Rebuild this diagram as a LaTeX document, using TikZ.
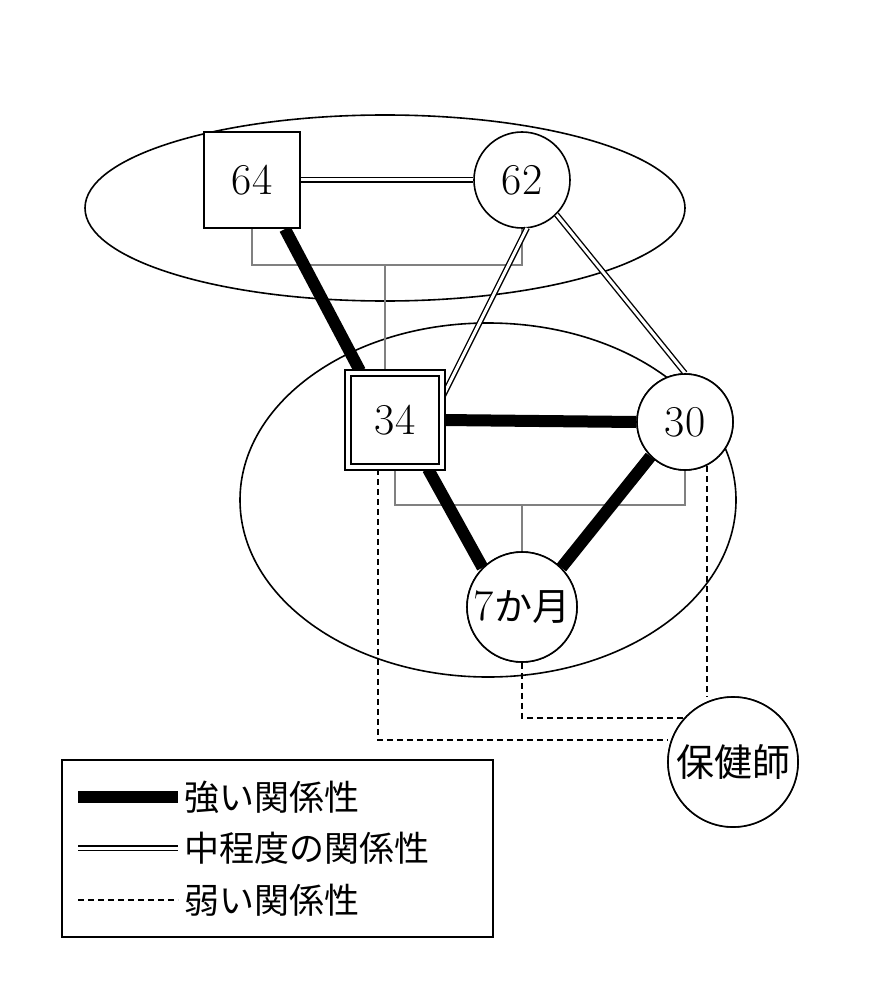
\documentclass[tikz,border=0pt]{standalone}
\usepackage{fontspec}
\newfontfamily\cjk{Noto Sans CJK JP}
\begin{document}
\begin{tikzpicture}[x=1pt,y=-1pt,
  person/.style={draw,line width=1.6pt,fill=white,font=\fontsize{44}{46}\selectfont},
  strong/.style={line width=12pt},
  mid/.style={double,double distance=3pt,line width=1.4pt},
  weak/.style={dashed,line width=1.4pt,dash pattern=on 6pt off 4pt},
  gen/.style={gray,line width=1.2pt}]
\useasboundingbox (0,0) rectangle (877,1000);
\draw[line width=1.6pt] (385,208) ellipse (300 and 93);
\draw[line width=1.6pt] (488,500) ellipse (248 and 177);
\coordinate (ga) at (252,265); \coordinate (gb) at (522,265); \coordinate (gc) at (385,265);
\coordinate (gd) at (395,505); \coordinate (ge) at (685,505); \coordinate (gf) at (522,505);
\node[person,minimum size=96pt,inner sep=0] (n64) at (252,180) {64};
\node[person,circle,minimum size=96pt,inner sep=0] (n62) at (522,180) {62};
\node[person,double,double distance=4pt,minimum size=94pt,inner sep=0] (n34) at (395,420) {34};
\node[person,circle,minimum size=96pt,inner sep=0] (n30) at (685,422) {30};
\node[person,circle,minimum size=110pt,inner sep=0] (n7) at (522,607) {7{\cjk\fontsize{38}{40}\selectfont か月}};
\node[person,circle,minimum size=130pt,inner sep=0] (nh) at (733,762) {\cjk\fontsize{38}{40}\selectfont 保健師};
\draw[gen] (n64.south) -- (ga) -- (gb) -- (n62.south);
\draw[gen] (gc) -- (385,372);
\draw[gen] (395,469) -- (gd) -- (ge) -- (n30.south);
\draw[gen] (gf) -- (n7.north);
\draw[strong] (285,229) -- (360,371);
\draw[strong] (n34.east) -- (n30.west);
\draw[strong] (428,469) -- (n7.north west);
\draw[strong] (n30.south west) -- (n7.north east);
\draw[mid] (n64.east) -- (n62.west);
\draw[mid] (527,228) -- (441,400);
\draw[mid] (n62.south east) -- (n30.north);
\draw[weak] (378,469) -- (378,740) -- (nh.west |- 0,740);
\draw[weak] (n7.south) -- (522,718) -- (697,718);
\draw[weak] (707,466) -- (707,697);
\node[person,minimum size=96pt,inner sep=0] at (252,180) {64};
\node[person,double,double distance=4pt,minimum size=94pt,inner sep=0] at (395,420) {34};
\node[person,circle,minimum size=96pt,inner sep=0] at (685,422) {30};
\node[person,circle,minimum size=110pt,inner sep=0] at (522,607) {7{\cjk\fontsize{38}{40}\selectfont か月}};
\node[person,circle,minimum size=130pt,inner sep=0] at (733,762) {\cjk\fontsize{38}{40}\selectfont 保健師};
\node[draw,line width=1.6pt,minimum width=431pt,minimum height=177pt,inner sep=0] (leg) at (277.5,848.5) {};
\coordinate (l1a) at (78,797); \coordinate (l1b) at (178,797);
\coordinate (l2a) at (78,848); \coordinate (l2b) at (178,848);
\coordinate (l3a) at (78,900); \coordinate (l3b) at (178,900);
\draw[strong] (l1a) -- (l1b);
\draw[mid] (l2a) -- (l2b);
\draw[weak] (l3a) -- (l3b);
\begin{scope}[every node/.style={anchor=west,font=\cjk\fontsize{35}{37}\selectfont,inner sep=0}]
\node (t1) at (184,797) {強い関係性};
\node (t2) at (184,848) {中程度の関係性};
\node (t3) at (184,900) {弱い関係性};
\end{scope}
\end{tikzpicture}
\end{document}
